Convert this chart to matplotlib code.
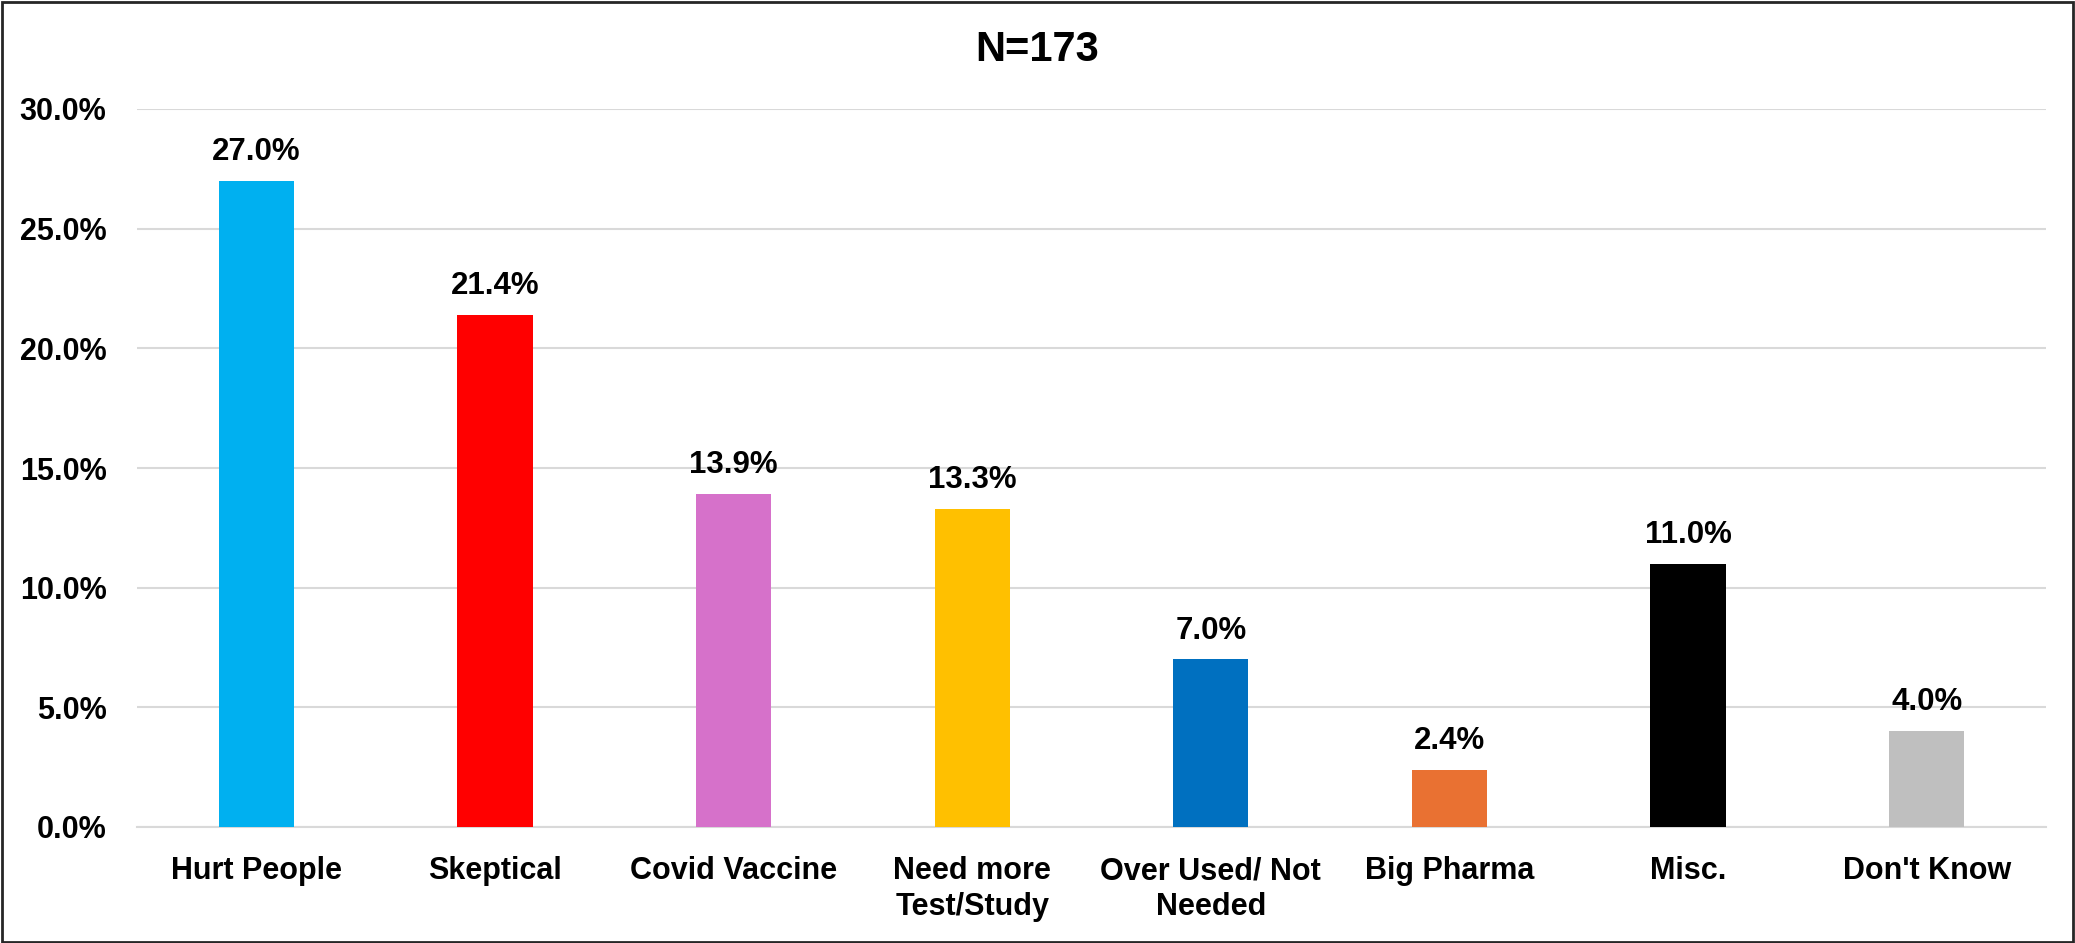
import matplotlib
matplotlib.use("Agg")
import matplotlib.pyplot as plt
from matplotlib.ticker import FuncFormatter, MultipleLocator
from matplotlib.patches import Rectangle

categories = ["Hurt People", "Skeptical", "Covid Vaccine", "Need more\nTest/Study",
              "Over Used/ Not\nNeeded", "Big Pharma", "Misc.", "Don't Know"]
values = [27.0, 21.4, 13.9, 13.3, 7.0, 2.4, 11.0, 4.0]
colors = ["#00B0F0", "#FF0000", "#D671CA", "#FFC000", "#0070C0", "#E97132", "#000000", "#BFBFBF"]
title = "N=173"

plt.rcParams['font.family'] = ['Liberation Sans', 'DejaVu Sans']
plt.rcParams['font.weight'] = 'bold'

fig = plt.figure(figsize=(20.75, 9.43), dpi=100)
ax = fig.add_axes([137/2075, 1-827/943, (2046-137)/2075, (827-109)/943])

x = list(range(len(categories)))
bars = ax.bar(x, values, width=0.315, color=colors, zorder=3)

ax.set_xlim(-0.5, len(categories)-0.5)
ax.set_ylim(0, 30)
ax.yaxis.set_major_locator(MultipleLocator(5))
ax.yaxis.set_major_formatter(FuncFormatter(lambda v, p: f"{v:.1f}%"))
ax.grid(axis='y', color='#D9D9D9', linewidth=1.5, zorder=0)
ax.set_axisbelow(True)
for s in ['top', 'right', 'left']:
    ax.spines[s].set_visible(False)
ax.spines['bottom'].set_color('#D9D9D9')
ax.spines['bottom'].set_linewidth(1.5)

ax.set_xticks(x)
ax.set_xticklabels(categories, fontsize=22, fontweight='bold', linespacing=1.25)
ax.tick_params(axis='x', length=0, pad=21)
ax.tick_params(axis='y', length=0, pad=22, labelsize=22)
for lab in ax.get_yticklabels():
    lab.set_fontweight('bold')

for xi, v in zip(x, values):
    ax.annotate(f"{v:.1f}%", (xi, v), xytext=(0, 10), textcoords='offset points',
                ha='center', va='bottom', fontsize=22.5, fontweight='bold')

fig.text(0.5, 1-50/943, title, ha='center', va='center', fontsize=30, fontweight='bold')

fig.patches.append(Rectangle((0.001, 0.001), 0.998, 0.997, transform=fig.transFigure,
                             fill=False, edgecolor='#262626', linewidth=2.0))

fig.savefig("out.png", dpi=100)
